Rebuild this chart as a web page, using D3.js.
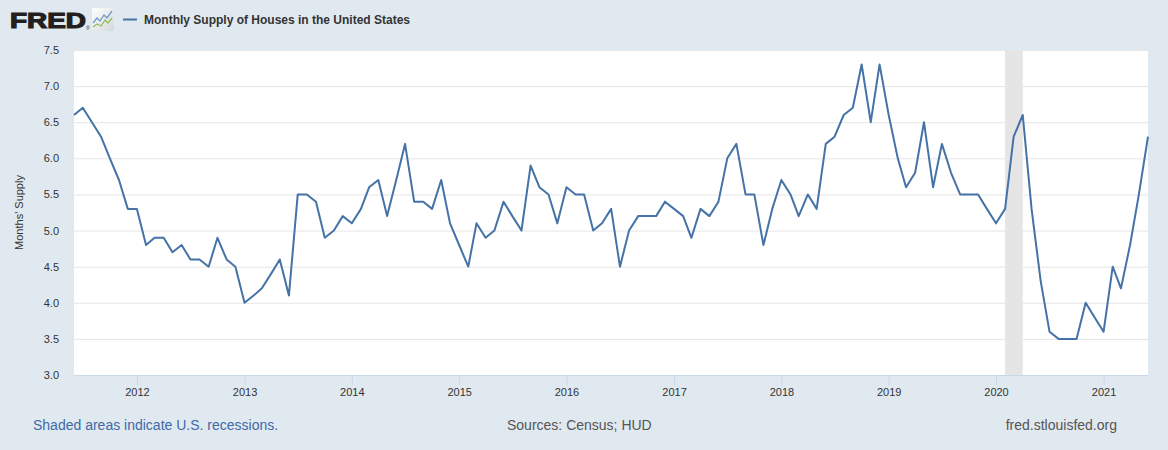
<!DOCTYPE html>
<html>
<head>
<meta charset="utf-8">
<script src="https://cdn.jsdelivr.net/npm/d3@7"></script>
<style>
  html, body { margin: 0; padding: 0; background: #e1e9f0; }
  svg { display: block; font-family: "Liberation Sans", Arial, sans-serif; }
</style>
</head>
<body>
<svg id="chart" width="1168" height="450"></svg>
<script>
// Monthly Supply of Houses in the United States (MSACSR), one value per month from June 2011
const startMonth = '2011-06-01';
const supply = [
  6.6, 6.7, 6.5, 6.3, 6.0, 5.7, 5.3,
  5.3, 4.8, 4.9, 4.9, 4.7, 4.8, 4.6, 4.6, 4.5, 4.9, 4.6, 4.5,
  4.0, 4.1, 4.2, 4.4, 4.6, 4.1, 5.5, 5.5, 5.4, 4.9, 5.0, 5.2,
  5.1, 5.3, 5.6, 5.7, 5.2, 5.7, 6.2, 5.4, 5.4, 5.3, 5.7, 5.1,
  4.8, 4.5, 5.1, 4.9, 5.0, 5.4, 5.2, 5.0, 5.9, 5.6, 5.5, 5.1,
  5.6, 5.5, 5.5, 5.0, 5.1, 5.3, 4.5, 5.0, 5.2, 5.2, 5.2, 5.4,
  5.3, 5.2, 4.9, 5.3, 5.2, 5.4, 6.0, 6.2, 5.5, 5.5, 4.8, 5.3,
  5.7, 5.5, 5.2, 5.5, 5.3, 6.2, 6.3, 6.6, 6.7, 7.3, 6.5, 7.3,
  6.6, 6.0, 5.6, 5.8, 6.5, 5.6, 6.2, 5.8, 5.5, 5.5, 5.5, 5.3,
  5.1, 5.3, 6.3, 6.6, 5.3, 4.3, 3.6, 3.5, 3.5, 3.5, 4.0, 3.8,
  3.6, 4.5, 4.2, 4.8, 5.5, 6.3
];
const recessionStarts = ['2020-02-01'];
const recessionEnds = ['2020-04-01'];
const yTicks = [3.0, 3.5, 4.0, 4.5, 5.0, 5.5, 6.0, 6.5, 7.0, 7.5];

const seriesTitle = 'Monthly Supply of Houses in the United States';
const yTitle = "Months' Supply";
const footLeft = 'Shaded areas indicate U.S. recessions.';
const footMid = 'Sources: Census; HUD';
const footRight = 'fred.stlouisfed.org';

const lineColor = '#4572a7';
const margin = { top: 50, right: 20, bottom: 75, left: 74 };
const width = 1168, height = 450;

const svg = d3.select('#chart');
const parse = d3.utcParse('%Y-%m-%d');
const start = parse(startMonth);
const data = supply.map((v, i) => ({ date: d3.utcMonth.offset(start, i), value: v }));

const x = d3.scaleUtc()
  .domain(d3.extent(data, d => d.date))
  .range([margin.left, width - margin.right]);
const y = d3.scaleLinear()
  .domain([3, 7.5])
  .range([height - margin.bottom, margin.top]);

// plot background
svg.append('rect')
  .attr('x', margin.left).attr('y', margin.top)
  .attr('width', x.range()[1] - margin.left)
  .attr('height', y.range()[0] - margin.top)
  .attr('fill', '#fff');

// gridlines
svg.append('g')
  .attr('transform', `translate(${margin.left},0)`)
  .call(d3.axisLeft(y).tickValues(yTicks.slice(1)).tickSize(-(x.range()[1] - margin.left)).tickFormat(''))
  .call(g => g.select('.domain').remove())
  .call(g => g.selectAll('line').attr('stroke', '#e6e6e6'));

// recession shading
svg.append('g').selectAll('rect')
  .data(recessionStarts.map((s, i) => [parse(s), parse(recessionEnds[i])]))
  .join('rect')
  .attr('x', d => x(d[0]))
  .attr('width', d => x(d[1]) - x(d[0]))
  .attr('y', margin.top)
  .attr('height', y.range()[0] - margin.top)
  .attr('fill', '#e5e5e5');

// x axis
svg.append('g')
  .attr('transform', `translate(0,${y.range()[0]})`)
  .call(d3.axisBottom(x).ticks(d3.utcYear.every(1)).tickFormat(d3.utcFormat('%Y')).tickSize(10).tickPadding(3))
  .call(g => g.select('.domain').attr('stroke', '#ccd6eb').attr('d', `M${margin.left},0.5H${x.range()[1]}`))
  .call(g => g.selectAll('line').attr('stroke', '#ccd6eb'))
  .call(g => g.selectAll('text').attr('fill', '#333').attr('font-size', 11)
    .attr('font-family', '"Liberation Sans", Arial, sans-serif'));

// y axis labels
svg.append('g')
  .attr('transform', `translate(${margin.left},0)`)
  .call(d3.axisLeft(y).tickValues(yTicks).tickFormat(d3.format('.1f')).tickSize(0).tickPadding(15))
  .call(g => g.select('.domain').remove())
  .call(g => g.selectAll('text').attr('fill', '#333').attr('font-size', 11)
    .attr('font-family', '"Liberation Sans", Arial, sans-serif'));

svg.append('text')
  .attr('transform', `translate(23,${(margin.top + y.range()[0]) / 2}) rotate(-90)`)
  .attr('text-anchor', 'middle')
  .attr('font-size', 11)
  .attr('fill', '#333')
  .text(yTitle);

// series line
svg.append('path')
  .datum(data)
  .attr('fill', 'none')
  .attr('stroke', lineColor)
  .attr('stroke-width', 2)
  .attr('stroke-linejoin', 'round')
  .attr('d', d3.line().x(d => x(d.date)).y(d => y(d.value)));

// FRED logo + icon
const grad = svg.append('defs').append('linearGradient')
  .attr('id', 'iconGrad').attr('x1', 0).attr('y1', 0).attr('x2', 1).attr('y2', 1);
grad.append('stop').attr('offset', '0%').attr('stop-color', '#ffffff');
grad.append('stop').attr('offset', '100%').attr('stop-color', '#d4d8dc');

const logo = svg.append('g');
logo.append('text')
  .attr('x', 10).attr('y', 28)
  .attr('font-size', 22).attr('font-weight', 'bold')
  .attr('textLength', 76).attr('lengthAdjust', 'spacingAndGlyphs')
  .attr('fill', '#231f20').attr('stroke', '#231f20').attr('stroke-width', 1.2)
  .text('FRED');
logo.append('text')
  .attr('x', 86).attr('y', 30).attr('font-size', 5).attr('fill', '#231f20').text('®');
logo.append('rect')
  .attr('x', 92).attr('y', 8).attr('width', 22).attr('height', 23).attr('rx', 2)
  .attr('fill', 'url(#iconGrad)');
logo.append('path')
  .attr('d', 'M93,23 L97,18 L100,21 L104,15 L107,18 L112,11')
  .attr('fill', 'none').attr('stroke', '#6f9bd0').attr('stroke-width', 1.3);
logo.append('path')
  .attr('d', 'M93,27 L97,24 L101,26 L105,20 L108,23 L112,18')
  .attr('fill', 'none').attr('stroke', '#8fbf5a').attr('stroke-width', 1.3);

// legend
svg.append('line')
  .attr('x1', 123).attr('x2', 137).attr('y1', 19.5).attr('y2', 19.5)
  .attr('stroke', lineColor).attr('stroke-width', 2);
svg.append('text')
  .attr('x', 144).attr('y', 23.5)
  .attr('font-size', 12).attr('font-weight', 'bold').attr('fill', '#333')
  .text(seriesTitle);

// footer
svg.append('text').attr('x', 33).attr('y', 430).attr('font-size', 14).attr('fill', '#3e6aa6').text(footLeft);
svg.append('text').attr('x', 507).attr('y', 430).attr('font-size', 14).attr('fill', '#555').text(footMid);
svg.append('text').attr('x', 1117).attr('y', 430).attr('text-anchor', 'end').attr('font-size', 14).attr('fill', '#555').text(footRight);
</script>
</body>
</html>
